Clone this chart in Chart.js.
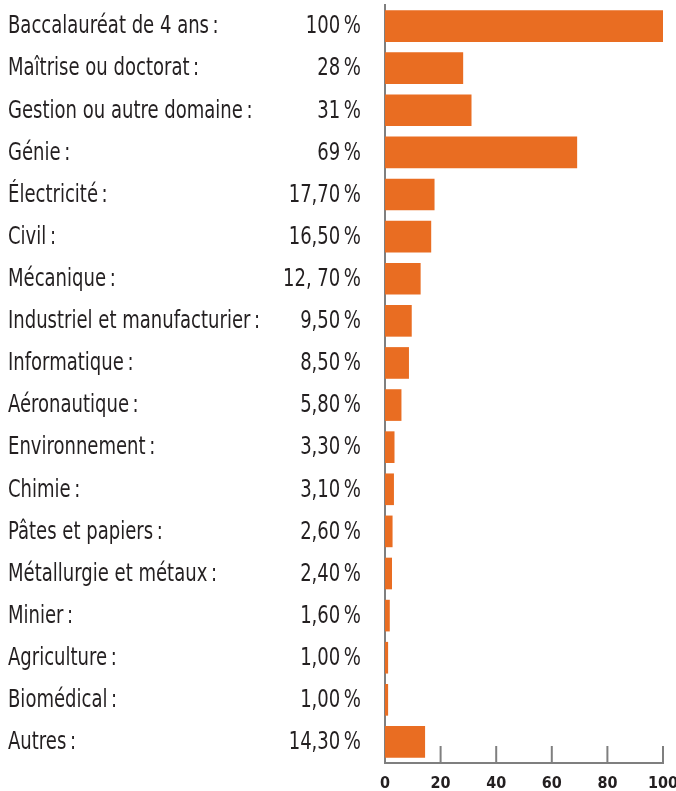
<!DOCTYPE html>
<html lang="fr">
<head>
    <meta charset="UTF-8">
    <title>Formation des diplômés</title>
    <script src="https://cdn.jsdelivr.net/npm/chart.js"></script>
    <style>
        html, body { margin: 0; padding: 0; background: #fff; }
        #wrap { width: 676px; height: 791px; position: relative; }
    </style>
</head>
<body>
    <div id="wrap"><canvas id="chart"></canvas></div>

    <script>
        // Categories, values and the printed value labels
        const categories = [
            'Baccalauréat de 4 ans\u202F:', 'Maîtrise ou doctorat\u202F:', 'Gestion ou autre domaine\u202F:', 'Génie\u202F:',
            'Électricité\u202F:', 'Civil\u202F:', 'Mécanique\u202F:', 'Industriel et manufacturier\u202F:',
            'Informatique\u202F:', 'Aéronautique\u202F:', 'Environnement\u202F:', 'Chimie\u202F:',
            'Pâtes et papiers\u202F:', 'Métallurgie et métaux\u202F:', 'Minier\u202F:', 'Agriculture\u202F:',
            'Biomédical\u202F:', 'Autres\u202F:'
        ];
        const values = [100, 28, 31, 69, 17.7, 16.5, 12.7, 9.5, 8.5, 5.8, 3.3, 3.1, 2.6, 2.4, 1.6, 1.0, 1.0, 14.3];
        const valueLabels = [
            '100\u202F%', '28\u202F%', '31\u202F%', '69\u202F%', '17,70\u202F%', '16,50\u202F%', '12, 70\u202F%',
            '9,50\u202F%', '8,50\u202F%', '5,80\u202F%', '3,30\u202F%', '3,10\u202F%', '2,60\u202F%', '2,40\u202F%',
            '1,60\u202F%', '1,00\u202F%', '1,00\u202F%', '14,30\u202F%'
        ];
        const xTicks = [0, 20, 40, 60, 80, 100];

        const FONT = '"Liberation Sans Narrow", "DejaVu Sans Condensed", "Roboto Condensed", "Liberation Sans", sans-serif';
        const TEXT = '#231f20';
        const AXIS = '#7f7f7f';
        const SQUEEZE = 0.835; // the original face is tall and narrow

        // Draws the category names and value labels on the left, and the inward tick marks
        const sidePanel = {
            id: 'sidePanel',
            afterDraw(chart) {
                const ctx = chart.ctx;
                const y = chart.scales.y;
                const x = chart.scales.x;
                ctx.save();
                ctx.font = '24px ' + FONT;
                ctx.fillStyle = TEXT;
                ctx.textBaseline = 'middle';
                categories.forEach((name, i) => {
                    const py = y.getPixelForValue(i) + 1;
                    ctx.save();
                    ctx.translate(8, py);
                    ctx.scale(SQUEEZE, 1);
                    ctx.textAlign = 'left';
                    ctx.fillText(name, 0, 0);
                    ctx.restore();
                    ctx.save();
                    ctx.translate(361, py);
                    ctx.scale(SQUEEZE, 1);
                    ctx.textAlign = 'right';
                    ctx.fillText(valueLabels[i], 0, 0);
                    ctx.restore();
                });
                // tick marks pointing up into the plot
                ctx.strokeStyle = AXIS;
                ctx.lineWidth = 2;
                xTicks.slice(1).forEach(t => {
                    const px = x.getPixelForValue(t);
                    ctx.beginPath();
                    ctx.moveTo(px, chart.chartArea.bottom);
                    ctx.lineTo(px, chart.chartArea.bottom - 17);
                    ctx.stroke();
                });
                ctx.restore();
            }
        };

        new Chart(document.getElementById('chart'), {
            type: 'bar',
            data: {
                labels: categories,
                datasets: [{
                    data: values,
                    backgroundColor: '#e96d22',
                    barThickness: 31
                }]
            },
            options: {
                indexAxis: 'y',
                responsive: true,
                maintainAspectRatio: false,
                animation: false,
                layout: { padding: { left: 385, right: 13, top: 5, bottom: 0 } },
                plugins: {
                    legend: { display: false },
                    tooltip: { enabled: false }
                },
                scales: {
                    x: {
                        min: 0,
                        max: 100,
                        afterBuildTicks: axis => { axis.ticks = xTicks.map(v => ({ value: v })); },
                        afterFit: scale => {
                            scale.paddingRight = 0;
                            scale.height = 28;
                        },
                        grid: { display: false, drawTicks: false },
                        border: { display: true, color: AXIS, width: 2 },
                        ticks: {
                            padding: 11,
                            color: TEXT,
                            font: { family: FONT, size: 16, weight: 'bold' }
                        }
                    },
                    y: {
                        grid: { display: false, drawTicks: false },
                        border: { display: true, color: AXIS, width: 2 },
                        ticks: { display: false }
                    }
                }
            },
            plugins: [sidePanel]
        });
    </script>
</body>
</html>
